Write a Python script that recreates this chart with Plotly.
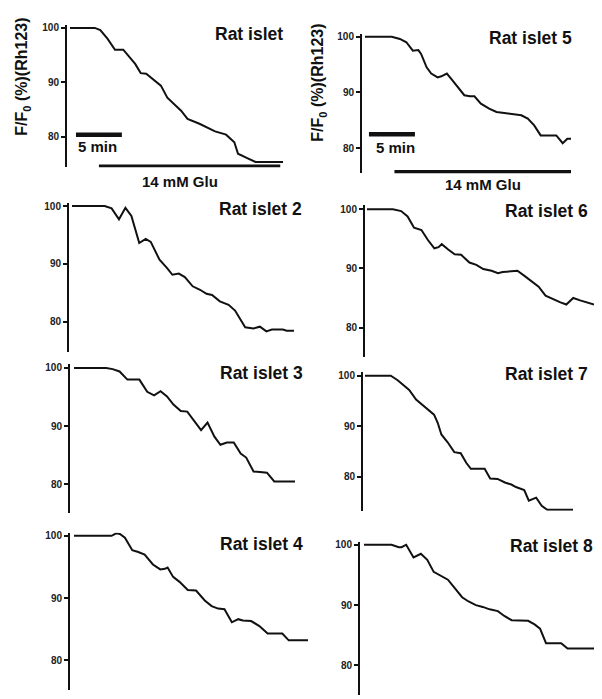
import plotly.graph_objects as go

W, H = 602, 699

# ---------------- data (time in min, F/F0 in %) ----------------
names = ["Rat islet", "Rat islet 5", "Rat islet 2", "Rat islet 6",
         "Rat islet 3", "Rat islet 7", "Rat islet 4", "Rat islet 8"]

t_islet1 = [0, 2.7, 3.3, 4.1, 4.9, 5.8, 7.1, 7.7, 8.3, 8.9, 9.9, 10.6, 12.1, 12.8, 14.1,
            15.8, 17.0, 17.9, 18.3, 19.3, 20.2, 23.2]
v_islet1 = [100, 100, 99.6, 98, 96, 96, 93.4, 91.7, 91.6, 90.8, 89.4, 87.2, 84.8, 83.3, 82.4,
            81.0, 80.4, 79.0, 76.9, 76.1, 75.4, 75.4]

t_islet5 = [0, 2.9, 3.8, 4.5, 5.2, 5.8, 6.1, 6.7, 7.2, 7.9, 8.3, 8.9, 9.4, 10.1, 10.8, 11.4,
            11.9, 12.6, 13.5, 14.3, 15.2, 15.9, 17.0, 17.7, 18.4, 19.1, 19.9, 20.8, 21.5, 22.0, 22.4]
v_islet5 = [100, 100, 99.6, 99.0, 97.5, 97.6, 96.9, 94.5, 93.4, 92.7, 92.9, 93.4, 92.4, 90.9,
            89.5, 89.3, 89.3, 88.0, 87.1, 86.5, 86.3, 86.1, 85.9, 85.3, 84.1, 82.3, 82.3, 82.3,
            80.9, 81.7, 81.7]

t_islet2 = [0, 3.55, 4.3, 5.1, 5.8, 6.45, 7.3, 8.0, 8.55, 9.0, 9.5, 10.3, 10.9, 11.6, 12.25,
            13.1, 13.9, 14.6, 15.2, 16.05, 17.0, 17.7, 18.2, 18.8, 19.7, 20.4, 21.1, 21.7, 22.9,
            23.3, 24.1]
v_islet2 = [100, 100, 99.6, 97.7, 99.7, 98.3, 93.6, 94.3, 93.8, 92.4, 90.7, 89.3, 88.1, 88.3,
            87.7, 86.1, 85.5, 84.8, 84.6, 83.5, 82.9, 81.9, 80.6, 79.0, 78.8, 79.1, 78.3, 78.6,
            78.6, 78.4, 78.4]

t_islet6 = [0, 2.8, 3.7, 4.4, 5.1, 5.9, 6.6, 7.3, 7.75, 8.1, 8.8, 9.5, 10.2, 11.1, 11.85, 12.6,
            13.5, 14.2, 14.7, 15.5, 16.3, 17.1, 17.9, 18.6, 19.35, 20.1, 20.9, 21.6, 22.35, 23.1,
            24.6]
v_islet6 = [100, 100, 99.7, 98.8, 96.9, 96.5, 94.8, 93.4, 93.6, 94.1, 93.2, 92.4, 92.3, 91.0,
            90.6, 89.9, 89.6, 89.2, 89.4, 89.5, 89.6, 88.7, 87.8, 86.9, 85.4, 84.8, 84.3, 83.9,
            85.0, 84.6, 83.9]

t_islet3 = [0, 3.5, 4.2, 4.95, 5.8, 7.1, 7.95, 8.7, 9.4, 10.1, 10.8, 11.6, 12.3, 13.1, 13.8,
            14.5, 15.25, 15.9, 16.6, 17.35, 18.1, 18.7, 19.5, 20.2, 20.95, 21.75, 24.0]
v_islet3 = [100, 100, 99.8, 99.4, 98.0, 98.0, 95.9, 95.3, 96.0, 95.1, 93.7, 92.6, 92.5, 90.9,
            89.3, 90.6, 88.2, 86.8, 87.2, 87.2, 85.3, 84.6, 82.2, 82.1, 82.0, 80.5, 80.5]

t_islet7 = [0, 2.8, 3.55, 4.3, 4.8, 5.55, 6.1, 6.8, 7.5, 7.9, 8.3, 9.0, 9.7, 10.4, 11.0, 11.5,
            12.3, 13.0, 13.6, 14.4, 15.2, 15.9, 16.4, 17.0, 17.3, 17.8, 18.25, 18.6, 19.2, 19.8,
            22.6]
v_islet7 = [100, 100, 99.1, 97.9, 97.2, 95.3, 94.4, 93.4, 92.3, 90.7, 88.4, 86.8, 84.9, 84.7,
            82.8, 81.6, 81.6, 81.6, 79.7, 79.6, 78.9, 78.5, 78.0, 77.6, 77.4, 75.3, 75.7, 75.9,
            74.3, 73.5, 73.5]

t_islet4 = [0, 4.1, 4.6, 5.0, 5.55, 6.35, 7.0, 7.7, 8.6, 9.4, 9.9, 10.2, 10.8, 11.5, 12.4, 13.3,
            14.25, 15.0, 15.7, 16.4, 17.2, 17.9, 18.4, 19.3, 20.2, 21.1, 21.9, 22.7, 23.4, 25.5]
v_islet4 = [100, 100, 100.4, 100.3, 99.7, 97.7, 97.4, 97.0, 95.4, 94.6, 94.7, 94.9, 93.4, 92.6,
            91.3, 91.2, 89.6, 88.7, 88.3, 88.2, 86.1, 86.6, 86.4, 86.3, 85.5, 84.3, 84.3, 84.3,
            83.2, 83.2]

t_islet8 = [0, 3.0, 3.8, 4.1, 4.6, 5.4, 6.2, 6.9, 7.6, 8.3, 9.15, 9.9, 10.7, 11.4, 12.2, 12.95,
            13.7, 14.6, 15.3, 16.1, 17.1, 17.9, 18.6, 19.2, 19.85, 21.5, 22.2, 25.3]
v_islet8 = [100, 100, 99.6, 99.6, 100, 97.9, 98.5, 97.5, 95.5, 94.9, 94.2, 92.8, 91.3, 90.6,
            90.0, 89.7, 89.3, 89.0, 88.2, 87.5, 87.4, 87.4, 86.8, 86.1, 83.7, 83.7, 82.8, 82.8]

times = [t_islet1, t_islet5, t_islet2, t_islet6, t_islet3, t_islet7, t_islet4, t_islet8]
values = [v_islet1, v_islet5, v_islet2, v_islet6, v_islet3, v_islet7, v_islet4, v_islet8]

y_ticks = [80, 90, 100]
y_tick_labels = ["80", "90", "100"]

# scale bar (5 min) and glucose bar for the two top panels
scale_len = 5
scale_start = [0.65, 0.43]
scale_level = [80.4, 82.5]
glu_start = [3.15, 3.2]
glu_end = [22.9, 22.4]
glu_level = [74.5, 75.7]
glu_label = "14 mM Glu"
scale_label = "5 min"
y_title = "F/F<sub>0</sub> (%)(Rh123)"

# ---------------- layout geometry (pixels) ----------------
# axis_x, line_start, line_end, y_top_px, y_bot_px, y_top_val, y_bot_val
geom = [
    (59, 62, 275, 14, 157, 100.55, 74.4),
    (354, 357, 563, 23, 163, 100.5, 75.5),
    (61, 64, 286, 193, 342, 100.5, 74.8),
    (357, 359, 586, 195, 347, 100.7, 75.1),
    (62, 66, 287, 355, 504, 100.6, 75.1),
    (355, 357, 565, 363, 502, 100.65, 73.3),
    (62, 66, 300, 524, 682, 100.5, 75.2),
    (352, 356, 588, 533, 687, 100.5, 75.1),
]
title_pos = [(277, 23), (566, 27), (296, 199), (582, 201),
             (297, 364), (582, 365), (297, 535), (587, 537)]

FONT = "Liberation Sans, Arial, sans-serif"

def px(x):
    return x / W

def py(y):
    return 1 - y / H

fig = go.Figure()
annotations = []

for i in range(8):
    ax_x, ls, le, yt, yb, yv_t, yv_b = geom[i]
    T = times[i][-1]
    ppm = (le - ls) / T
    x_lo = -(ls - ax_x) / ppm
    x_hi = T + 3 / ppm
    xa = "xaxis" if i == 0 else f"xaxis{i+1}"
    ya = "yaxis" if i == 0 else f"yaxis{i+1}"
    xr = "x" if i == 0 else f"x{i+1}"
    yr = "y" if i == 0 else f"y{i+1}"
    fig.add_trace(go.Scatter(x=times[i], y=values[i], mode="lines",
                             line=dict(color="#111111", width=2),
                             xaxis=xr, yaxis=yr, showlegend=False, hoverinfo="skip"))
    fig.layout[xa] = dict(domain=[px(ax_x), px(le + 3)], range=[x_lo, x_hi],
                          visible=False, anchor=yr, fixedrange=True)
    fig.layout[ya] = dict(domain=[py(yb), py(yt)], range=[yv_b, yv_t], anchor=xr,
                          showline=True, linecolor="#111111", linewidth=2,
                          ticks="outside", ticklen=4, tickwidth=1.5, tickcolor="#111111",
                          tickvals=y_ticks, ticktext=y_tick_labels, showgrid=False,
                          zeroline=False,
                          tickfont=dict(family=FONT, size=10, color="#222222", weight="bold"),
                          fixedrange=True)
    tx, ty = title_pos[i]
    annotations.append(dict(text=names[i], x=px(tx), y=py(ty), xref="paper", yref="paper",
                            xanchor="right", yanchor="middle", showarrow=False,
                            font=dict(family=FONT, size=17.5, color="#111111", weight="bold")))

# scale bars and glucose bars on the two top panels
for j, i in enumerate([0, 1]):
    xr = "x" if i == 0 else f"x{i+1}"
    yr = "y" if i == 0 else f"y{i+1}"
    fig.add_trace(go.Scatter(x=[scale_start[j], scale_start[j] + scale_len],
                             y=[scale_level[j], scale_level[j]], mode="lines",
                             line=dict(color="#111111", width=4.5), cliponaxis=False,
                             xaxis=xr, yaxis=yr, showlegend=False, hoverinfo="skip"))
    fig.add_trace(go.Scatter(x=[glu_start[j], glu_end[j]],
                             y=[glu_level[j], glu_level[j]], mode="lines",
                             line=dict(color="#111111", width=4.5), cliponaxis=False,
                             xaxis=xr, yaxis=yr, showlegend=False, hoverinfo="skip"))

for (sx, sy) in [(68, 136), (366, 137)]:
    annotations.append(dict(text=scale_label, x=px(sx), y=py(sy), xref="paper", yref="paper",
                            xanchor="left", yanchor="middle", showarrow=False,
                            font=dict(family=FONT, size=15, color="#111111", weight="bold")))
for (gx, gy) in [(172, 171), (475, 174)]:
    annotations.append(dict(text=glu_label, x=px(gx), y=py(gy), xref="paper", yref="paper",
                            xanchor="center", yanchor="middle", showarrow=False,
                            font=dict(family=FONT, size=15, color="#111111", weight="bold")))
for (lx, ly) in [(15, 66), (311, 72)]:
    annotations.append(dict(text=y_title, x=px(lx), y=py(ly), xref="paper", yref="paper",
                            xanchor="center", yanchor="middle", showarrow=False, textangle=-90,
                            font=dict(family=FONT, size=16, color="#111111", weight="bold")))

fig.update_layout(width=W, height=H, margin=dict(l=0, r=0, t=0, b=0),
                  paper_bgcolor="white", plot_bgcolor="white",
                  annotations=annotations, showlegend=False)

fig.write_html("out.html")
